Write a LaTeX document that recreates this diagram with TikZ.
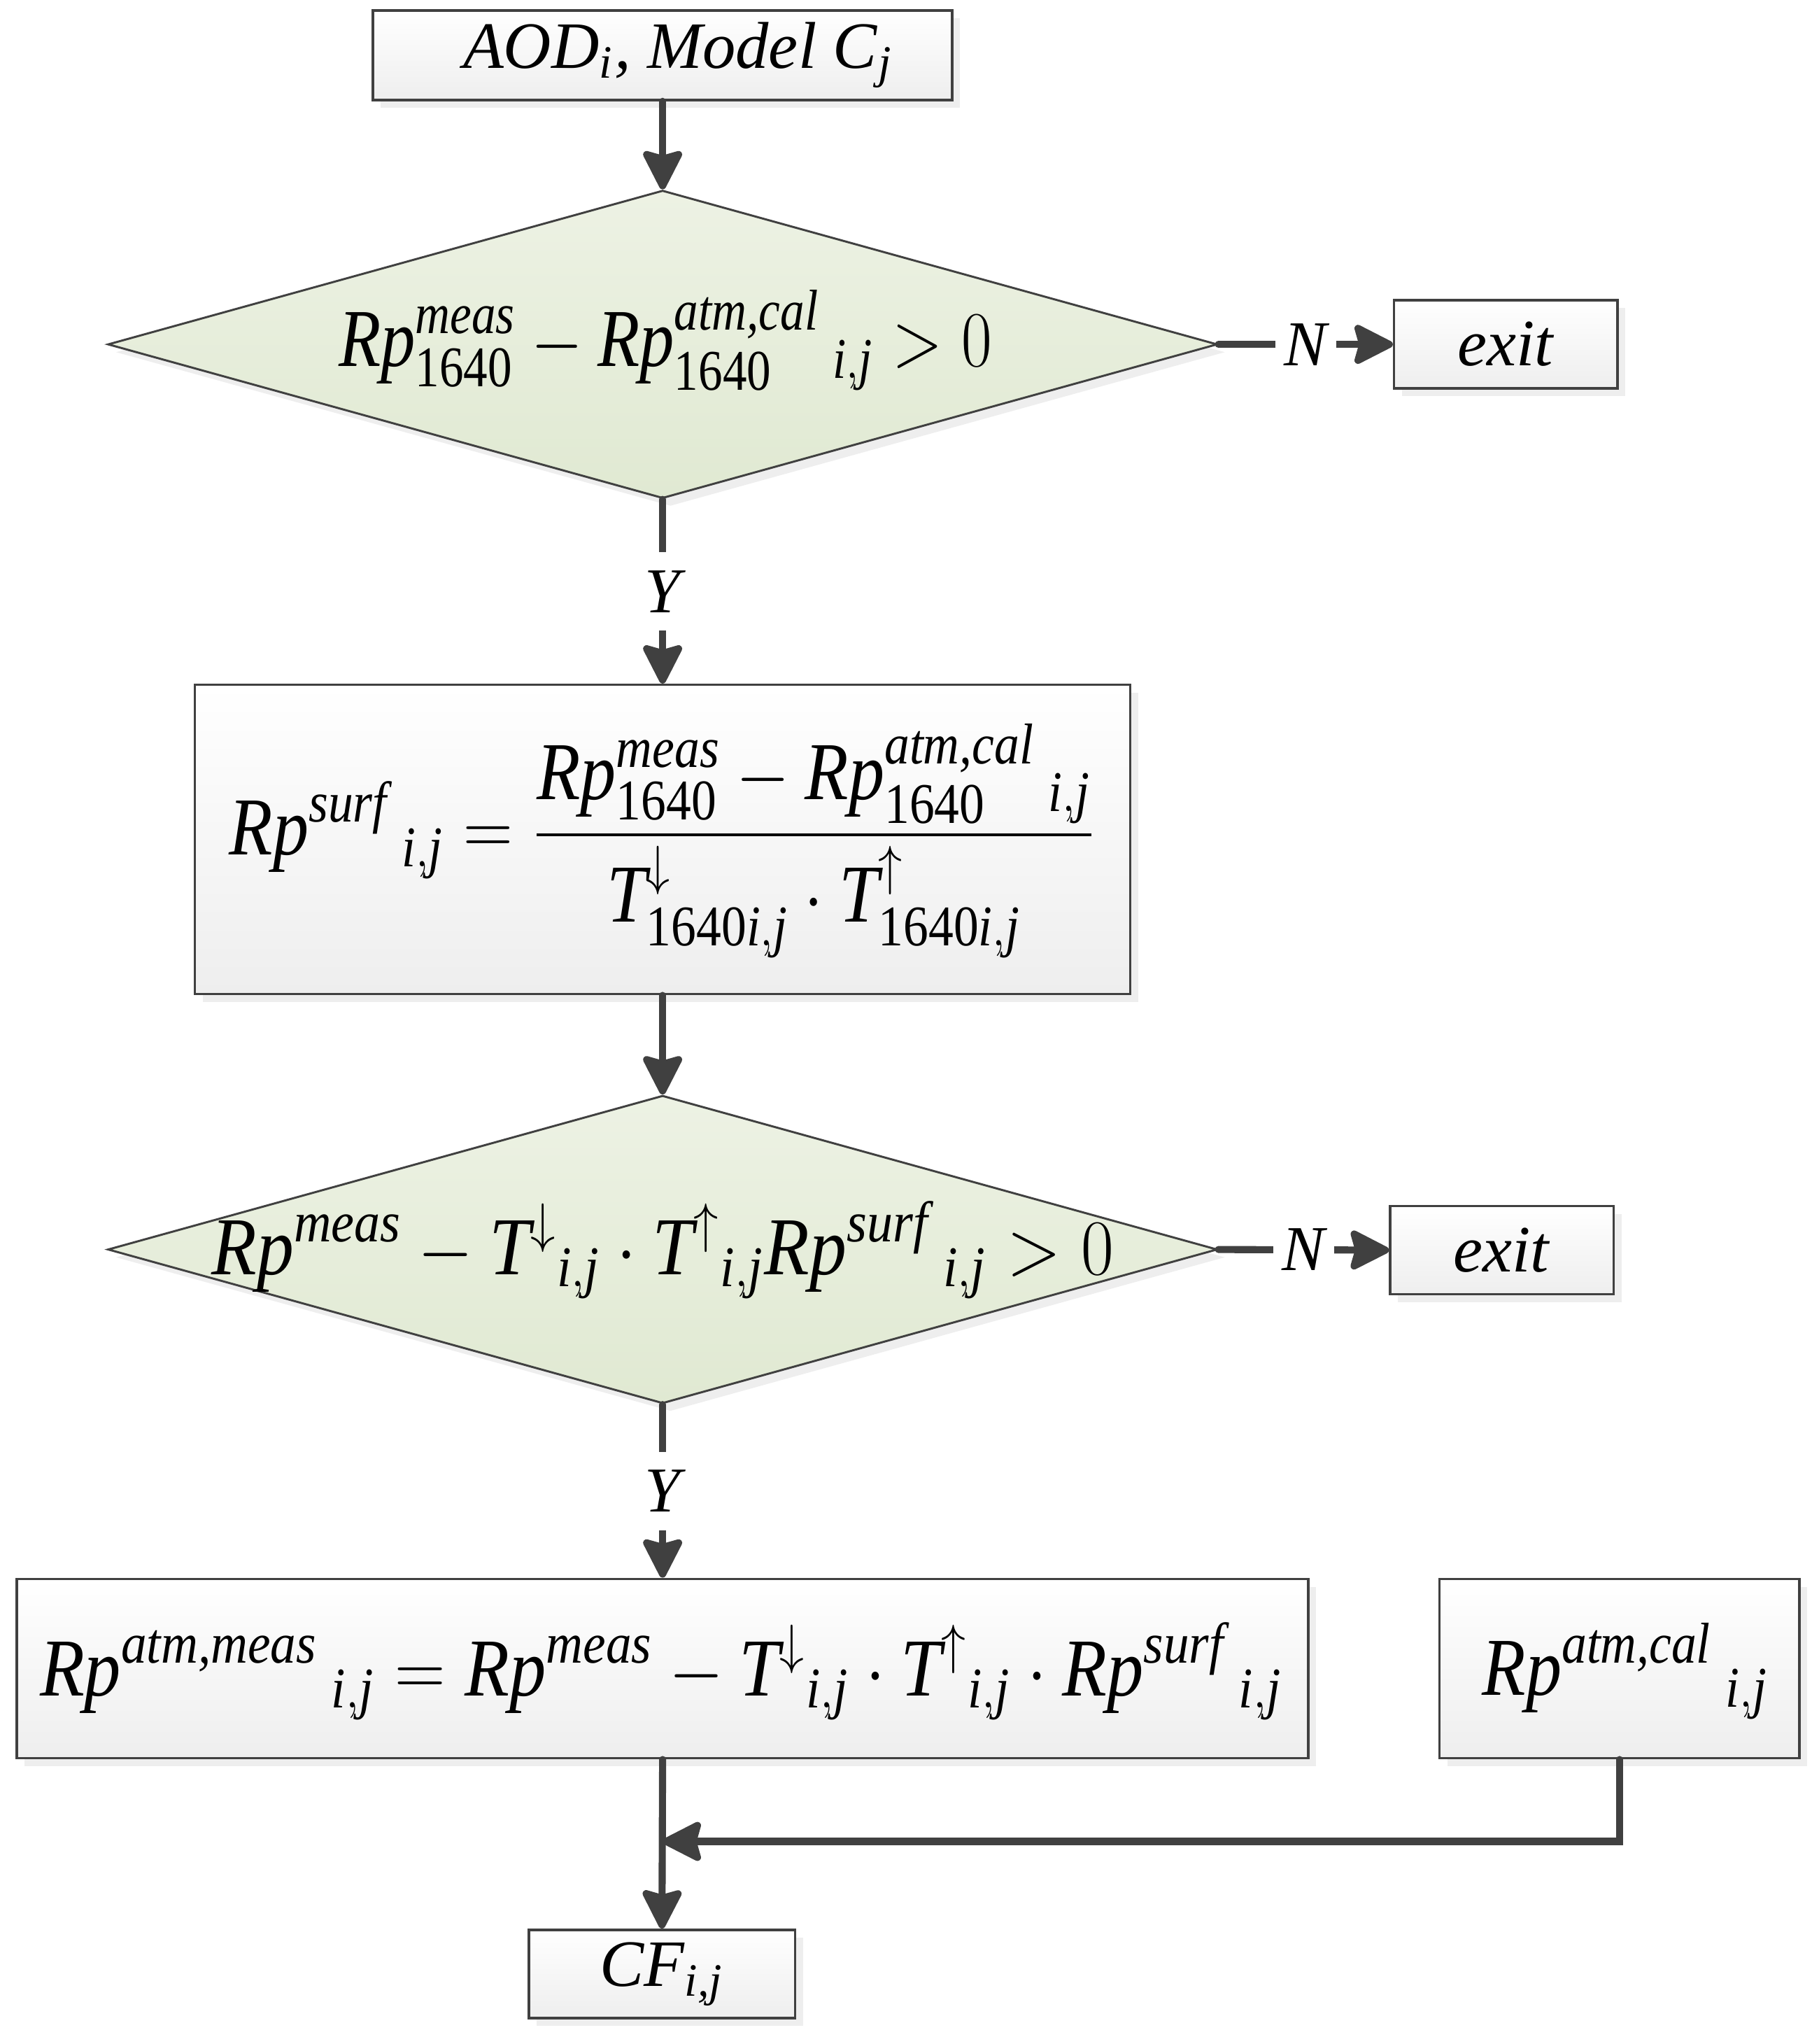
\documentclass[tikz,border=0pt]{standalone}
\usepackage{amsmath}
\usepackage{graphicx}
\usepackage{fontspec}
\setmainfont{Liberation Serif}
\usetikzlibrary{arrows.meta,shapes.geometric,shadows}
\definecolor{ln}{RGB}{64,64,64}
\definecolor{boxbot}{RGB}{238,238,238}
\definecolor{dtop}{RGB}{237,242,228}
\definecolor{dbot}{RGB}{224,233,210}
\newcommand{\vv}[1]{\textit{#1}}
\newcommand{\idxij}{\vv{i},\vv{j}}
\begin{document}
\begin{tikzpicture}[
  boxst/.style={draw=ln, line width=0.55pt, top color=white, bottom color=boxbot,
    drop shadow={shadow xshift=0.06cm, shadow yshift=-0.06cm, fill=black!13},
    inner sep=0pt, font=\fontsize{14.5pt}{17pt}\selectfont},
  decst/.style={diamond, draw=ln, line width=0.45pt, top color=dtop, bottom color=dbot,
    drop shadow={shadow xshift=0.06cm, shadow yshift=-0.06cm, fill=black!13},
    inner sep=0pt, minimum width=8.54cm, minimum height=2.37cm},
  formula/.style={inner sep=0pt, font=\fontsize{18pt}{22pt}\selectfont},
  conn/.style={draw=ln, line width=1.55pt, line cap=round,
    -{Stealth[length=0.34cm,width=0.34cm,inset=0.045cm,round]}},
  lbl/.style={fill=white, inner xsep=2pt, inner ysep=4pt, font=\fontsize{14pt}{17pt}\selectfont\itshape}
]
\useasboundingbox (0,0) rectangle (14,-15.729);

% nodes
\node[boxst, minimum width=4.46cm, minimum height=0.69cm] (top) at (5.10,-0.425)
  {\hspace*{0.24cm}\textit{AOD}$_{\textit{i}}$\textit{, Model C}$_{\textit{j}}$};

\node[decst] (d1) at (5.10,-2.65) {};
\node[formula] (d1t) at (5.12,-2.62)
  {\scalebox{0.84}[1]{$\vv{Rp}^{\vv{meas}}_{\text{1640}} - \vv{Rp}^{\vv{atm,cal}}_{\text{1640}}{}_{\;\idxij} > 0$}};

\node[boxst, minimum width=1.72cm, minimum height=0.68cm] (ex1) at (11.59,-2.65) {\textit{exit}};

\node[boxst, minimum width=7.20cm, minimum height=2.38cm] (b2) at (5.10,-6.46) {};
\node[formula] (b2t) at (5.10,-6.47)
  {\scalebox{0.87}[1]{$\vv{Rp}^{\vv{surf}}{}_{\;\idxij} = \dfrac{\vv{Rp}^{\vv{meas}}_{\text{1640}} - \vv{Rp}^{\vv{atm,cal}}_{\text{1640}}{}_{\;\idxij}}{\vv{T}^{\downarrow}_{\text{1640}\idxij}\cdot \vv{T}^{\uparrow}_{\text{1640}\idxij}}$}};

\node[decst] (d2) at (5.10,-9.615) {};
\node[formula] (d2t) at (5.10,-9.62)
  {\scalebox{0.9}[1]{$\vv{Rp}^{\vv{meas}} - \vv{T}^{\downarrow}{}_{\idxij}\cdot \vv{T}^{\uparrow}{}_{\idxij}\vv{Rp}^{\vv{surf}}{}_{\;\idxij} > 0$}};

\node[boxst, minimum width=1.72cm, minimum height=0.68cm] (ex2) at (11.56,-9.62) {\textit{exit}};

\node[boxst, minimum width=9.94cm, minimum height=1.38cm] (b3) at (5.10,-12.84) {};
\node[formula] (b3t) at (5.09,-12.86)
  {\scalebox{0.89}[1]{$\vv{Rp}^{\vv{atm,meas}}{}_{\;\idxij} = \vv{Rp}^{\vv{meas}} - \vv{T}^{\downarrow}{}_{\idxij}\cdot \vv{T}^{\uparrow}{}_{\idxij}\cdot \vv{Rp}^{\vv{surf}}{}_{\;\idxij}$}};

\node[boxst, minimum width=2.77cm, minimum height=1.38cm] (b4) at (12.465,-12.84) {};
\node[formula] (b4t) at (12.51,-12.86)
  {\scalebox{0.87}[1]{$\vv{Rp}^{\vv{atm,cal}}{}_{\;\idxij}$}};

\node[boxst, minimum width=2.05cm, minimum height=0.68cm] (cf) at (5.095,-15.19)
  {\textit{CF}$_{\textit{i,j}}$};

\coordinate (jn) at (5.10,-14.17);

% connectors
\draw[conn] (top.south) -- (d1.north);
\draw[conn] (d1.east) -- node[lbl]{N} (ex1.west);
\draw[conn] (d1.south) -- node[lbl]{Y} (b2.north);
\draw[conn] (b2.south) -- (d2.north);
\draw[conn] (d2.east) -- node[lbl]{N} (ex2.west);
\draw[conn] (d2.south) -- node[lbl]{Y} (b3.north);
\draw[conn] (b3.south) -- (cf.north);
\draw[conn] (b4.south) |- (jn);
\end{tikzpicture}
\end{document}
